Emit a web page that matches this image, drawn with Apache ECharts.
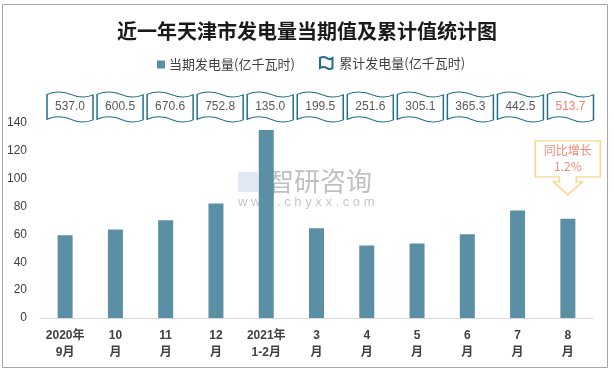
<!DOCTYPE html>
<html><head><meta charset="utf-8">
<script src="https://cdn.jsdelivr.net/npm/echarts@6/dist/echarts.min.js"></script>
<style>html,body{margin:0;padding:0;background:#fff}#c{width:614px;height:373px}</style>
</head><body><div id="c"></div>
<script>
const categories = ['2020年\n9月','10\n月','11\n月','12\n月','2021年\n1-2月','3\n月','4\n月','5\n月','6\n月','7\n月','8\n月'];
const currentValues = [59.5, 63.5, 70.1, 82.2, 135.0, 64.5, 52.1, 53.5, 60.2, 77.2, 71.2];
const cumulativeValues = [537.0, 600.5, 670.6, 752.8, 135.0, 199.5, 251.6, 305.1, 365.3, 442.5, 513.7];
const yTickMin = 0, yTickMax = 140, yTickStep = 20;
const yoyGrowth = '1.2%';

const TEAL = '#1f6f8b';
const BAR = '#5b8fa6';
const FLAG = 'path://M0,8 C20,-4 40,0 55,10 C70,20 88,18 100,10 L100,90 C88,98 70,100 55,90 C40,80 20,76 0,88 Z';
const CALLOUT = 'path://M0,0 L65,0 L65,36 L41,36 L41,41 L47,41 L32.5,54 L18,41 L24,41 L24,36 L0,36 Z';
const last = categories.length - 1;

const chart = echarts.init(document.getElementById('c'), null, {renderer: 'canvas'});
chart.setOption({
  animation: false,
  backgroundColor: '#fff',
  title: {
    text: '近一年天津市发电量当期值及累计值统计图',
    left: 'center', top: 16,
    textStyle: {fontFamily: 'Noto Sans CJK SC', fontWeight: 'bold', fontSize: 20, color: '#1a1a1a'}
  },
  legend: [
    {data: ['当期发电量(亿千瓦时)'], left: 152, top: 53, itemWidth: 8, itemHeight: 8, itemGap: 4,
     icon: 'rect', textStyle: {fontFamily: 'Noto Sans CJK SC', fontSize: 13, color: '#404040', padding: [0,0,0,-1]}},
    {data: [{name: '累计发电量(亿千瓦时)', icon: FLAG}], left: 314, top: 51, itemWidth: 16, itemHeight: 12,
     textStyle: {fontFamily: 'Noto Sans CJK SC', fontSize: 13, color: '#404040'}}
  ],
  grid: [
    {left: 40, right: 21, top: 123, bottom: 55},
    {left: 45, width: 550.5, top: 92, height: 30}
  ],
  xAxis: [
    {type: 'category', gridIndex: 0, data: categories,
     axisLine: {lineStyle: {color: '#d9d9d9', width: 1}}, axisTick: {show: false},
     axisLabel: {interval: 0, margin: 9, lineHeight: 17, fontSize: 12, fontWeight: 'bold',
                 fontFamily: 'Liberation Sans, Noto Sans CJK SC', color: '#404040'}},
    {type: 'category', gridIndex: 1, data: categories, show: false}
  ],
  yAxis: [
    {type: 'value', gridIndex: 0, min: yTickMin, max: yTickMax, interval: yTickStep,
     axisLine: {show: false}, axisTick: {show: false}, splitLine: {show: false},
     axisLabel: {margin: 13, fontSize: 12, fontFamily: 'Liberation Sans', color: '#404040'}},
    {type: 'category', gridIndex: 1, data: ['c'], show: false}
  ],
  graphic: [
    {type: 'rect', z: -10, silent: true, shape: {x: 2.5, y: 4.5, width: 605, height: 363},
     style: {fill: 'none', stroke: '#a6a6a6', lineWidth: 1}},
    {type: 'text', z: -10, silent: true, left: 268, top: 168,
     style: {text: '智研咨询', fontSize: 26, fontFamily: 'Noto Sans CJK SC', fill: 'rgba(140,140,140,0.55)'}},
    {type: 'text', z: -10, silent: true, left: 238, top: 196,
     style: {text: 'w w w . c h y x x . c o m', fontSize: 13, fontFamily: 'Liberation Sans', fill: 'rgba(140,140,140,0.5)'}},
    {type: 'rect', z: -10, silent: true, shape: {x: 238, y: 172, width: 20, height: 20, r: 2},
     style: {fill: 'rgba(150,180,215,0.3)'}}
  ],
  series: [
    {name: '当期发电量(亿千瓦时)', type: 'bar', xAxisIndex: 0, yAxisIndex: 0,
     data: currentValues, barWidth: 15, itemStyle: {color: BAR}, z: 3,
     markPoint: {
       symbol: CALLOUT, symbolSize: [65, 54], symbolOffset: [0, -51], silent: true,
       itemStyle: {color: '#fff', borderColor: '#f9d68d', borderWidth: 1.5},
       label: {show: true, position: 'inside', offset: [0, -9], formatter: '同比增长\n' + yoyGrowth,
               fontSize: 12, lineHeight: 16, fontFamily: 'Noto Sans CJK SC', color: '#f08b78'},
       data: [{coord: [last, currentValues[last]]}]
     }},
    {name: '累计发电量(亿千瓦时)', type: 'scatter', xAxisIndex: 1, yAxisIndex: 1,
     symbol: FLAG, symbolSize: [46, 30], silent: true,
     itemStyle: {color: '#fff', borderColor: TEAL, borderWidth: 1.2, opacity: 1},
     label: {show: true, position: 'inside', fontSize: 12, fontFamily: 'Liberation Sans',
             formatter: p => p.value[2].toFixed(1)},
     data: cumulativeValues.map((v, i) => ({value: [i, 0, v],
       label: {color: i === last ? '#f4816e' : '#595959'}}))}
  ]
});
</script></body></html>
